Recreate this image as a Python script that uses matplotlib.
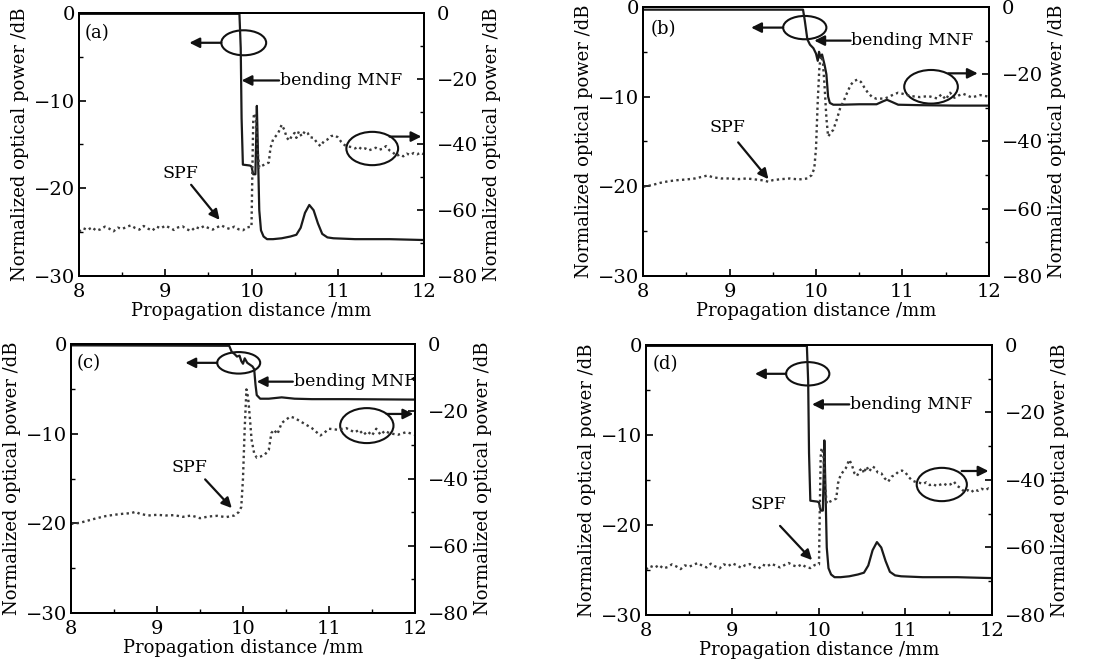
import numpy as np
import matplotlib
matplotlib.use("Agg")
from matplotlib import pyplot as plt
from matplotlib.patches import Ellipse
from matplotlib.ticker import MultipleLocator

plt.rcParams['font.family'] = 'DejaVu Serif'
plt.rcParams['font.size'] = 12
plt.rcParams['axes.linewidth'] = 1.4

# ---- data ----
# panels (a) and (d): bending MNF (left axis, dB)
mnf_ad_x = [8.0, 9.86, 9.875, 9.885, 9.90, 9.98, 10.0, 10.02, 10.045, 10.055, 10.062, 10.075,
            10.09, 10.11, 10.14, 10.18, 10.25, 10.35, 10.45, 10.52, 10.57, 10.62, 10.67, 10.72,
            10.77, 10.82, 10.88, 10.95, 11.2, 11.6, 12.0]
mnf_ad_y = [-0.1, -0.1, -4.0, -12.0, -17.3, -17.4, -17.5, -18.4, -18.4, -14.0, -10.6, -16.0,
            -22.5, -24.8, -25.5, -25.8, -25.8, -25.7, -25.5, -25.3, -24.5, -22.8, -21.9, -22.5,
            -24.0, -25.2, -25.6, -25.7, -25.8, -25.8, -25.9]

# panels (a) and (d): SPF (right axis, dB)
spf_ad_x = [8.00, 8.05, 8.10, 8.15, 8.20, 8.25, 8.30, 8.35, 8.40, 8.45, 8.50, 8.55, 8.60, 8.65,
            8.70, 8.75, 8.80, 8.85, 8.90, 8.95, 9.00, 9.05, 9.10, 9.15, 9.20, 9.25, 9.30, 9.35,
            9.40, 9.45, 9.50, 9.55, 9.60, 9.65, 9.70, 9.75, 9.80, 9.85, 9.90, 9.95, 10.0, 10.01,
            10.02, 10.03, 10.05, 10.07, 10.09, 10.12, 10.16, 10.20, 10.22, 10.25, 10.28, 10.31,
            10.35, 10.38, 10.41, 10.44, 10.47, 10.50, 10.52, 10.55, 10.58, 10.62, 10.65, 10.68,
            10.72, 10.76, 10.80, 10.84, 10.88, 10.92, 10.96, 11.00, 11.04, 11.08, 11.12, 11.16,
            11.20, 11.24, 11.28, 11.32, 11.36, 11.40, 11.44, 11.48, 11.52, 11.56, 11.60, 11.64,
            11.68, 11.72, 11.76, 11.80, 11.84, 11.88, 11.92, 11.96, 12.00]
spf_ad_y = [-66.5, -65.5, -66.0, -65.2, -66.2, -65.8, -65.0, -65.6, -66.4, -65.3, -65.7, -65.1,
            -64.6, -65.4, -65.9, -64.8, -65.6, -66.2, -65.0, -65.5, -64.7, -65.3, -66.0, -65.2,
            -64.9, -65.8, -66.3, -65.1, -65.6, -64.8, -65.4, -65.9, -65.2, -64.6, -65.3, -65.7,
            -65.0, -65.8, -66.1, -65.2, -65.0, -48.0, -33.0, -30.5, -32.0, -42.0, -47.0, -46.5,
            -46.0, -45.5, -41.0, -38.5, -37.5, -36.5, -34.0, -35.5, -38.0, -38.8, -37.2, -36.5,
            -38.0, -36.0, -37.5, -36.0, -36.5, -37.8, -38.0, -39.5, -40.5, -39.0, -38.5, -37.5,
            -37.2, -37.8, -39.2, -40.2, -40.6, -40.8, -41.2, -40.7, -41.5, -41.2, -41.8, -41.4,
            -41.0, -41.6, -41.3, -40.5, -41.8, -42.4, -43.5, -43.0, -43.6, -42.8, -43.2, -42.6,
            -43.0, -42.5, -43.0]

# panel (b)
mnf_b_x = [8.0, 9.85, 9.87, 9.90, 9.93, 9.97, 10.0, 10.02, 10.035, 10.05, 10.07, 10.10, 10.12,
           10.14, 10.16, 10.2, 10.3, 10.5, 10.7, 10.78, 10.82, 10.88, 10.95, 11.2, 11.6, 12.0]
mnf_b_y = [-0.3, -0.3, -1.5, -3.6, -4.2, -4.6, -5.2, -6.0, -5.0, -5.6, -5.3, -6.5, -7.5,
           -10.0, -10.7, -10.9, -10.9, -10.85, -10.85, -10.5, -10.35, -10.6, -10.9, -10.95,
           -11.0, -11.0]
spf_b_x = [8.0, 8.1, 8.2, 8.3, 8.4, 8.5, 8.6, 8.7, 8.75, 8.8, 8.9, 9.0, 9.1, 9.2, 9.3, 9.4,
           9.45, 9.5, 9.6, 9.7, 9.8, 9.9, 9.95, 9.98, 10.0, 10.02, 10.04, 10.06, 10.08, 10.1,
           10.12, 10.14, 10.17, 10.2, 10.24, 10.28, 10.32, 10.36, 10.40, 10.44, 10.48, 10.52,
           10.56, 10.6, 10.65, 10.7, 10.8, 10.9, 10.95, 11.0, 11.1, 11.2, 11.3, 11.4, 11.45,
           11.5, 11.55, 11.6, 11.65, 11.7, 11.8, 11.9, 12.0]
spf_b_y = [-53.5, -53.0, -52.3, -51.8, -51.5, -51.3, -51.0, -50.4, -50.1, -50.6, -51.0, -51.0,
           -51.2, -51.0, -51.3, -51.6, -52.0, -51.5, -51.2, -51.0, -51.3, -51.0, -50.0, -48.0,
           -42.0, -28.0, -17.5, -14.5, -16.5, -24.0, -33.0, -38.5, -37.5, -36.5, -33.5, -30.0,
           -28.0, -25.5, -23.2, -22.0, -21.6, -22.3, -24.0, -25.5, -26.8, -27.3, -27.2, -26.0,
           -25.5, -25.8, -26.5, -26.8, -26.5, -27.2, -26.0, -27.5, -25.5, -27.0, -26.3, -25.8,
           -26.9, -26.2, -26.7]

# panel (c)
mnf_c_x = [8.0, 9.84, 9.87, 9.90, 9.93, 9.96, 9.98, 10.0, 10.02, 10.05, 10.08, 10.11, 10.13,
           10.145, 10.16, 10.2, 10.3, 10.45, 10.6, 10.8, 11.2, 12.0]
mnf_c_y = [-0.15, -0.2, -0.9, -1.1, -1.4, -1.3, -1.9, -2.2, -1.6, -2.1, -2.3, -2.5, -2.8,
           -4.5, -5.7, -6.1, -6.1, -5.95, -6.1, -6.15, -6.15, -6.2]
spf_c_x = [8.0, 8.1, 8.2, 8.3, 8.4, 8.5, 8.6, 8.7, 8.75, 8.8, 8.9, 9.0, 9.1, 9.2, 9.3, 9.4,
           9.5, 9.6, 9.7, 9.8, 9.9, 9.95, 9.98, 10.0, 10.02, 10.04, 10.06, 10.08, 10.1, 10.13,
           10.16, 10.2, 10.25, 10.3, 10.33, 10.36, 10.4, 10.45, 10.5, 10.55, 10.6, 10.7, 10.8,
           10.9, 10.95, 11.0, 11.1, 11.2, 11.3, 11.35, 11.4, 11.45, 11.5, 11.55, 11.6, 11.65,
           11.7, 11.8, 11.9, 12.0]
spf_c_y = [-53.5, -53.2, -52.5, -51.8, -51.2, -50.8, -50.5, -50.3, -49.9, -50.5, -51.0, -50.8,
           -51.0, -50.9, -51.4, -51.0, -51.8, -51.3, -51.1, -51.5, -51.0, -50.0, -48.5, -40.0,
           -25.0, -13.5, -16.0, -22.0, -28.5, -32.5, -33.8, -33.5, -33.0, -31.5, -26.5, -25.5,
           -26.8, -23.5, -22.5, -21.6, -22.0, -23.5, -25.0, -27.2, -26.3, -25.2, -25.5, -25.0,
           -26.3, -25.5, -27.0, -26.0, -27.2, -25.2, -27.0, -25.8, -26.5, -27.0, -26.2, -27.0]

x_ticks = [8, 9, 10, 11, 12]
left_ticks = [-30, -20, -10, 0]
right_ticks = [-80, -60, -40, -20, 0]


def arrow(ax, start, end):
    ax.annotate('', xy=end, xytext=start,
                arrowprops=dict(arrowstyle='-|>', color='#111111', lw=1.6,
                                mutation_scale=15, shrinkA=0, shrinkB=0))


def panel(fig, pos, tag, sx, sy, dx, dy, sp):
    ax = fig.add_axes(pos)
    ax2 = ax.twinx()
    ax.plot(sx, sy, color='#1a1a1a', lw=1.6)
    ax2.plot(dx, dy, color='#3a3a3a', lw=1.7, linestyle=(0, (1, 1.4)))

    ax.set_xlim(8, 12)
    ax.set_ylim(-30, 0)
    ax2.set_ylim(-80, 0)
    ax.set_xticks(x_ticks)
    ax.set_yticks(left_ticks)
    ax2.set_yticks(right_ticks)
    ax.xaxis.set_minor_locator(MultipleLocator(0.5))
    ax.yaxis.set_minor_locator(MultipleLocator(5))
    ax2.yaxis.set_minor_locator(MultipleLocator(10))
    ax.tick_params(which='both', direction='in', top=False, right=False, labelsize=14)
    ax.tick_params(which='major', length=5, width=1.2)
    ax.tick_params(which='minor', length=3, width=1.0)
    ax.tick_params(axis='y', pad=3)
    ax.tick_params(axis='x', pad=5)
    ax2.tick_params(which='both', direction='in', labelsize=14)
    ax2.tick_params(which='major', length=5, width=1.2, pad=9)
    ax2.tick_params(which='minor', length=3, width=1.0)

    ax.set_xlabel('Propagation distance /mm', fontsize=13, labelpad=1)
    ax.set_ylabel('Normalized optical power /dB', fontsize=13, labelpad=3)
    ax2.set_ylabel('Normalized optical power /dB', fontsize=13, labelpad=4)

    ax.text(sp['tag'][0], sp['tag'][1], tag, ha='center', va='center', fontsize=13)

    cx, cy, w, h = sp['ell_l']
    ax.add_patch(Ellipse((cx, cy), w, h, fill=False, ec='#111111', lw=1.5))
    arrow(ax, (cx - w / 2, cy), (sp['arr_l'], cy))

    cx, cy, w, h = sp['ell_r']
    ax.add_patch(Ellipse((cx, cy), w, h, fill=False, ec='#111111', lw=1.5))
    arrow(ax, sp['arr_r'][0], sp['arr_r'][1])

    bx, by = sp['bend']
    ax.text(bx, by, 'bending MNF', ha='left', va='center', fontsize=12.5)
    arrow(ax, (bx - 0.01, by), (sp['bend_tip'], by))

    ax.text(sp['spf'][0], sp['spf'][1], 'SPF', ha='center', va='center', fontsize=12.5)
    arrow(ax, sp['spf_arr'][0], sp['spf_arr'][1])


fig = plt.figure(figsize=(10.99, 6.65), dpi=100)

spec_a = dict(tag=(8.21, -2.35), ell_l=(9.91, -3.4, 0.52, 2.85), arr_l=9.28,
              ell_r=(11.40, -15.46, 0.60, 3.8), arr_r=((11.60, -14.1), (11.97, -14.1)),
              bend=(10.33, -7.7), bend_tip=9.885,
              spf=(9.18, -18.3), spf_arr=((9.30, -19.6), (9.63, -23.6)))
spec_b = dict(tag=(8.23, -2.5), ell_l=(9.87, -2.3, 0.5, 2.6), arr_l=9.25,
              ell_r=(11.33, -8.9, 0.62, 3.75), arr_r=((11.53, -7.4), (11.87, -7.4)),
              bend=(10.41, -3.75), bend_tip=9.98,
              spf=(8.98, -13.4), spf_arr=((9.10, -15.1), (9.45, -19.2)))
spec_c = dict(tag=(8.2, -2.1), ell_l=(9.95, -2.1, 0.5, 2.4), arr_l=9.33,
              ell_r=(11.44, -9.1, 0.62, 3.9), arr_r=((11.67, -7.8), (11.98, -7.8)),
              bend=(10.59, -4.2), bend_tip=10.16,
              spf=(9.38, -13.8), spf_arr=((9.56, -15.1), (9.87, -18.3)))
spec_d = dict(tag=(8.22, -2.1), ell_l=(9.87, -3.2, 0.5, 2.6), arr_l=9.26,
              ell_r=(11.42, -15.5, 0.58, 3.7), arr_r=((11.65, -14.0), (11.96, -14.0)),
              bend=(10.36, -6.6), bend_tip=9.92,
              spf=(9.42, -17.7), spf_arr=((9.55, -20.1), (9.92, -23.9)))

panel(fig, [0.0719, 0.5850, 0.3139, 0.3955], '(a)', mnf_ad_x, mnf_ad_y, spf_ad_x, spf_ad_y, spec_a)
panel(fig, [0.5851, 0.5850, 0.3148, 0.4045], '(b)', mnf_b_x, mnf_b_y, spf_b_x, spf_b_y, spec_b)
panel(fig, [0.0646, 0.0782, 0.3130, 0.4045], '(c)', mnf_c_x, mnf_c_y, spf_c_x, spf_c_y, spec_c)
panel(fig, [0.5878, 0.0752, 0.3148, 0.4060], '(d)', mnf_ad_x, mnf_ad_y, spf_ad_x, spf_ad_y, spec_d)

fig.savefig('out.png', dpi=100)
